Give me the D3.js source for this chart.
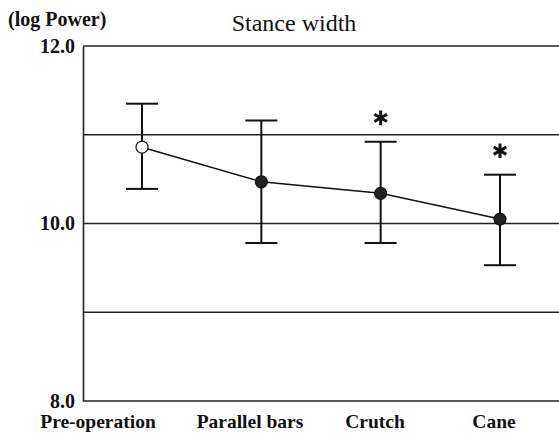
<!DOCTYPE html>
<html>
<head>
<meta charset="utf-8">
<script src="https://cdn.jsdelivr.net/npm/d3@7"></script>
<style>
  body { margin: 0; background: #fff; }
</style>
</head>
<body>
<div id="chart"></div>
<script>
var categories = ["Pre-operation", "Parallel bars", "Crutch", "Cane"];
var means = [10.86, 10.47, 10.34, 10.05];
var upper = [11.35, 11.16, 10.92, 10.55];
var lower = [10.39, 9.78, 9.78, 9.53];
var significant = [false, false, true, true];
var yTicks = [8, 9, 10, 11, 12];
var yTickLabels = ["8.0", "", "10.0", "", "12.0"];

var width = 559, height = 436;
var margin = {top: 46, right: 0, bottom: 35, left: 83};

var svg = d3.select("#chart")
	.append("svg")
	.attr("width", width)
	.attr("height", height);

var y = d3.scaleLinear()
	.domain([8, 12])
	.range([height - margin.bottom, margin.top]);

var x = d3.scalePoint()
	.domain(categories)
	.range([142, 500]);

// label centres do not sit exactly under the points in the original
var labelX = d3.scaleOrdinal()
	.domain(categories)
	.range([98, 250, 375, 494]);

// horizontal rules
svg.selectAll(".grid")
	.data(yTicks)
	.enter()
	.append("line")
	.attr("x1", margin.left)
	.attr("x2", width)
	.attr("y1", function(d) { return y(d); })
	.attr("y2", function(d) { return y(d); })
	.attr("stroke", "#222")
	.attr("stroke-width", function(d) { return (d == 8 || d == 12) ? 1.6 : 1.3; });

// left axis
var yAxis = d3.axisLeft(y)
	.tickValues(yTicks)
	.tickSize(0)
	.tickPadding(8)
	.tickFormat(function(d, i) { return yTickLabels[i]; });

var gy = svg.append("g")
	.attr("transform", "translate(" + margin.left + ",0)")
	.call(yAxis);
gy.select(".domain").attr("stroke", "#222").attr("stroke-width", 1.6);
gy.selectAll("text")
	.style("font-family", "Liberation Serif")
	.style("font-size", "20px")
	.style("font-weight", "bold")
	.attr("fill", "#111");

// category labels
svg.selectAll(".cat")
	.data(categories)
	.enter()
	.append("text")
	.attr("x", function(d) { return labelX(d); })
	.attr("y", 428)
	.attr("text-anchor", "middle")
	.style("font-family", "Liberation Serif")
	.style("font-size", "19.5px")
	.style("font-weight", "bold")
	.attr("fill", "#111")
	.text(function(d) { return d; });

// error bars
var cap = 16;
var bars = svg.selectAll(".err")
	.data(categories)
	.enter()
	.append("g");
bars.append("line")
	.attr("x1", function(d) { return x(d); })
	.attr("x2", function(d) { return x(d); })
	.attr("y1", function(d, i) { return y(upper[i]); })
	.attr("y2", function(d, i) { return y(lower[i]); })
	.attr("stroke", "#111").attr("stroke-width", 2);
bars.append("line")
	.attr("x1", function(d) { return x(d) - cap; })
	.attr("x2", function(d) { return x(d) + cap; })
	.attr("y1", function(d, i) { return y(upper[i]); })
	.attr("y2", function(d, i) { return y(upper[i]); })
	.attr("stroke", "#111").attr("stroke-width", 2);
bars.append("line")
	.attr("x1", function(d) { return x(d) - cap; })
	.attr("x2", function(d) { return x(d) + cap; })
	.attr("y1", function(d, i) { return y(lower[i]); })
	.attr("y2", function(d, i) { return y(lower[i]); })
	.attr("stroke", "#111").attr("stroke-width", 2);

// mean line
var line = d3.line()
	.x(function(d, i) { return x(categories[i]); })
	.y(function(d) { return y(d); });
svg.append("path")
	.datum(means)
	.attr("d", line)
	.attr("fill", "none")
	.attr("stroke", "#111")
	.attr("stroke-width", 1.5);

svg.selectAll(".pt")
	.data(means)
	.enter()
	.append("circle")
	.attr("cx", function(d, i) { return x(categories[i]); })
	.attr("cy", function(d) { return y(d); })
	.attr("r", 6)
	.attr("fill", function(d, i) { return i == 0 ? "#fff" : "#222"; })
	.attr("stroke", "#111")
	.attr("stroke-width", 1.2);

// significance marks
var star = d3.symbol().type(d3.symbolAsterisk).size(150);
svg.selectAll(".star")
	.data(categories.filter(function(d, i) { return significant[i]; }))
	.enter()
	.append("path")
	.attr("d", star)
	.attr("transform", function(d) {
		return "translate(" + x(d) + "," + (y(upper[categories.indexOf(d)]) - 24) + ")";
	})
	.attr("fill", "none")
	.attr("stroke", "#111")
	.attr("stroke-width", 3);

// titles
svg.append("text")
	.attr("x", 8)
	.attr("y", 26)
	.style("font-family", "Liberation Serif")
	.style("font-size", "20px")
	.style("font-weight", "bold")
	.attr("fill", "#111")
	.text("(log Power)");

svg.append("text")
	.attr("x", 294)
	.attr("y", 31)
	.attr("text-anchor", "middle")
	.style("font-family", "Liberation Serif")
	.style("font-size", "24px")
	.attr("fill", "#111")
	.text("Stance width");
</script>
</body>
</html>
